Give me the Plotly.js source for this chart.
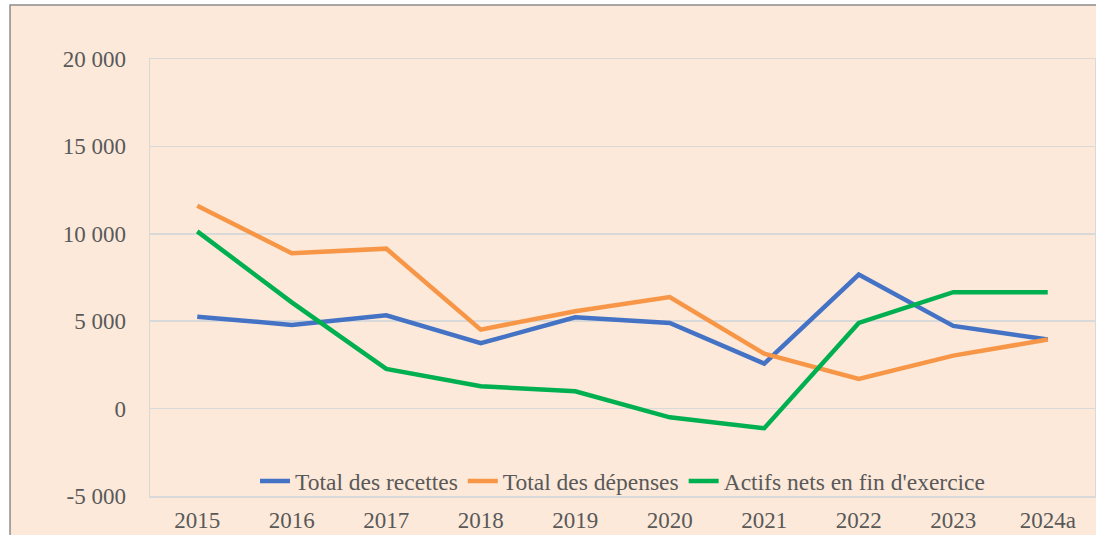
<!DOCTYPE html>
<html>
<head>
<meta charset="utf-8">
<script src="https://cdn.plot.ly/plotly-3.0.1.min.js"></script>
<style>html,body{margin:0;padding:0;background:#fff;}#chart{width:1096px;height:535px;}</style>
</head>
<body>
<div id="chart"></div>
<script>
var years = ["2015","2016","2017","2018","2019","2020","2021","2022","2023","2024a"];
var recettes = [5260, 4790, 5340, 3740, 5220, 4900, 2570, 7670, 4730, 3950];
var depenses = [11610, 8890, 9150, 4520, 5570, 6380, 3140, 1700, 3030, 3950];
var actifs = [10140, 6080, 2270, 1280, 990, -500, -1120, 4900, 6660, 6660];
var yTickVals = [-5000, 0, 5000, 10000, 15000, 20000];
var yTickText = ["-5 000", "0", "5 000", "10 000", "15 000", "20 000"];
var seriesNames = ["Total des recettes", "Total des dépenses", "Actifs nets en fin d'exercice"];

var fontFam = "Liberation Serif, Times New Roman, serif";
var textCol = "#595959";

var traces = [
  {x: years, y: recettes, name: seriesNames[0], mode: "lines", line: {color: "#4472C4", width: 4.5}},
  {x: years, y: depenses, name: seriesNames[1], mode: "lines", line: {color: "#F79646", width: 4.5}},
  {x: years, y: actifs, name: seriesNames[2], mode: "lines", line: {color: "#00B050", width: 4.5}}
];

var layout = {
  width: 1096, height: 535,
  margin: {l: 150, r: 1, t: 59, b: 39, pad: 0},
  paper_bgcolor: "#ffffff",
  plot_bgcolor: "rgba(0,0,0,0)",
  font: {family: fontFam, size: 23, color: textCol},
  showlegend: true,
  legend: {
    orientation: "h", x: 0.5, xanchor: "center", y: 0.034, yanchor: "middle",
    bgcolor: "rgba(0,0,0,0)", font: {family: fontFam, size: 23.5, color: textCol},
    itemwidth: 30, tracegroupgap: 0
  },
  xaxis: {
    type: "category", range: [-0.5, 9.5], showgrid: false, zeroline: false,
    showline: true, mirror: true, linecolor: "#D9D9D9", linewidth: 1.5,
    ticks: "", ticklabelstandoff: 3, fixedrange: true,
    tickfont: {family: fontFam, size: 23, color: textCol}
  },
  yaxis: {
    range: [-5000, 20000], tickvals: yTickVals, ticktext: yTickText,
    showgrid: true, gridcolor: "#D9D9D9", gridwidth: 1.5, zeroline: false,
    showline: true, mirror: true, linecolor: "#D9D9D9", linewidth: 1.5,
    ticks: "", ticklabelstandoff: 18, fixedrange: true,
    tickfont: {family: fontFam, size: 23, color: textCol}
  },
  shapes: [{
    type: "rect", xref: "paper", yref: "paper", layer: "below",
    x0: -0.1481, x1: 1.2, y0: -0.3, y1: 1.1236,
    fillcolor: "#FCE9DA", line: {color: "#8C8C8C", width: 1.5}
  }]
};

Plotly.newPlot("chart", traces, layout, {displayModeBar: false, staticPlot: true});
</script>
</body>
</html>
